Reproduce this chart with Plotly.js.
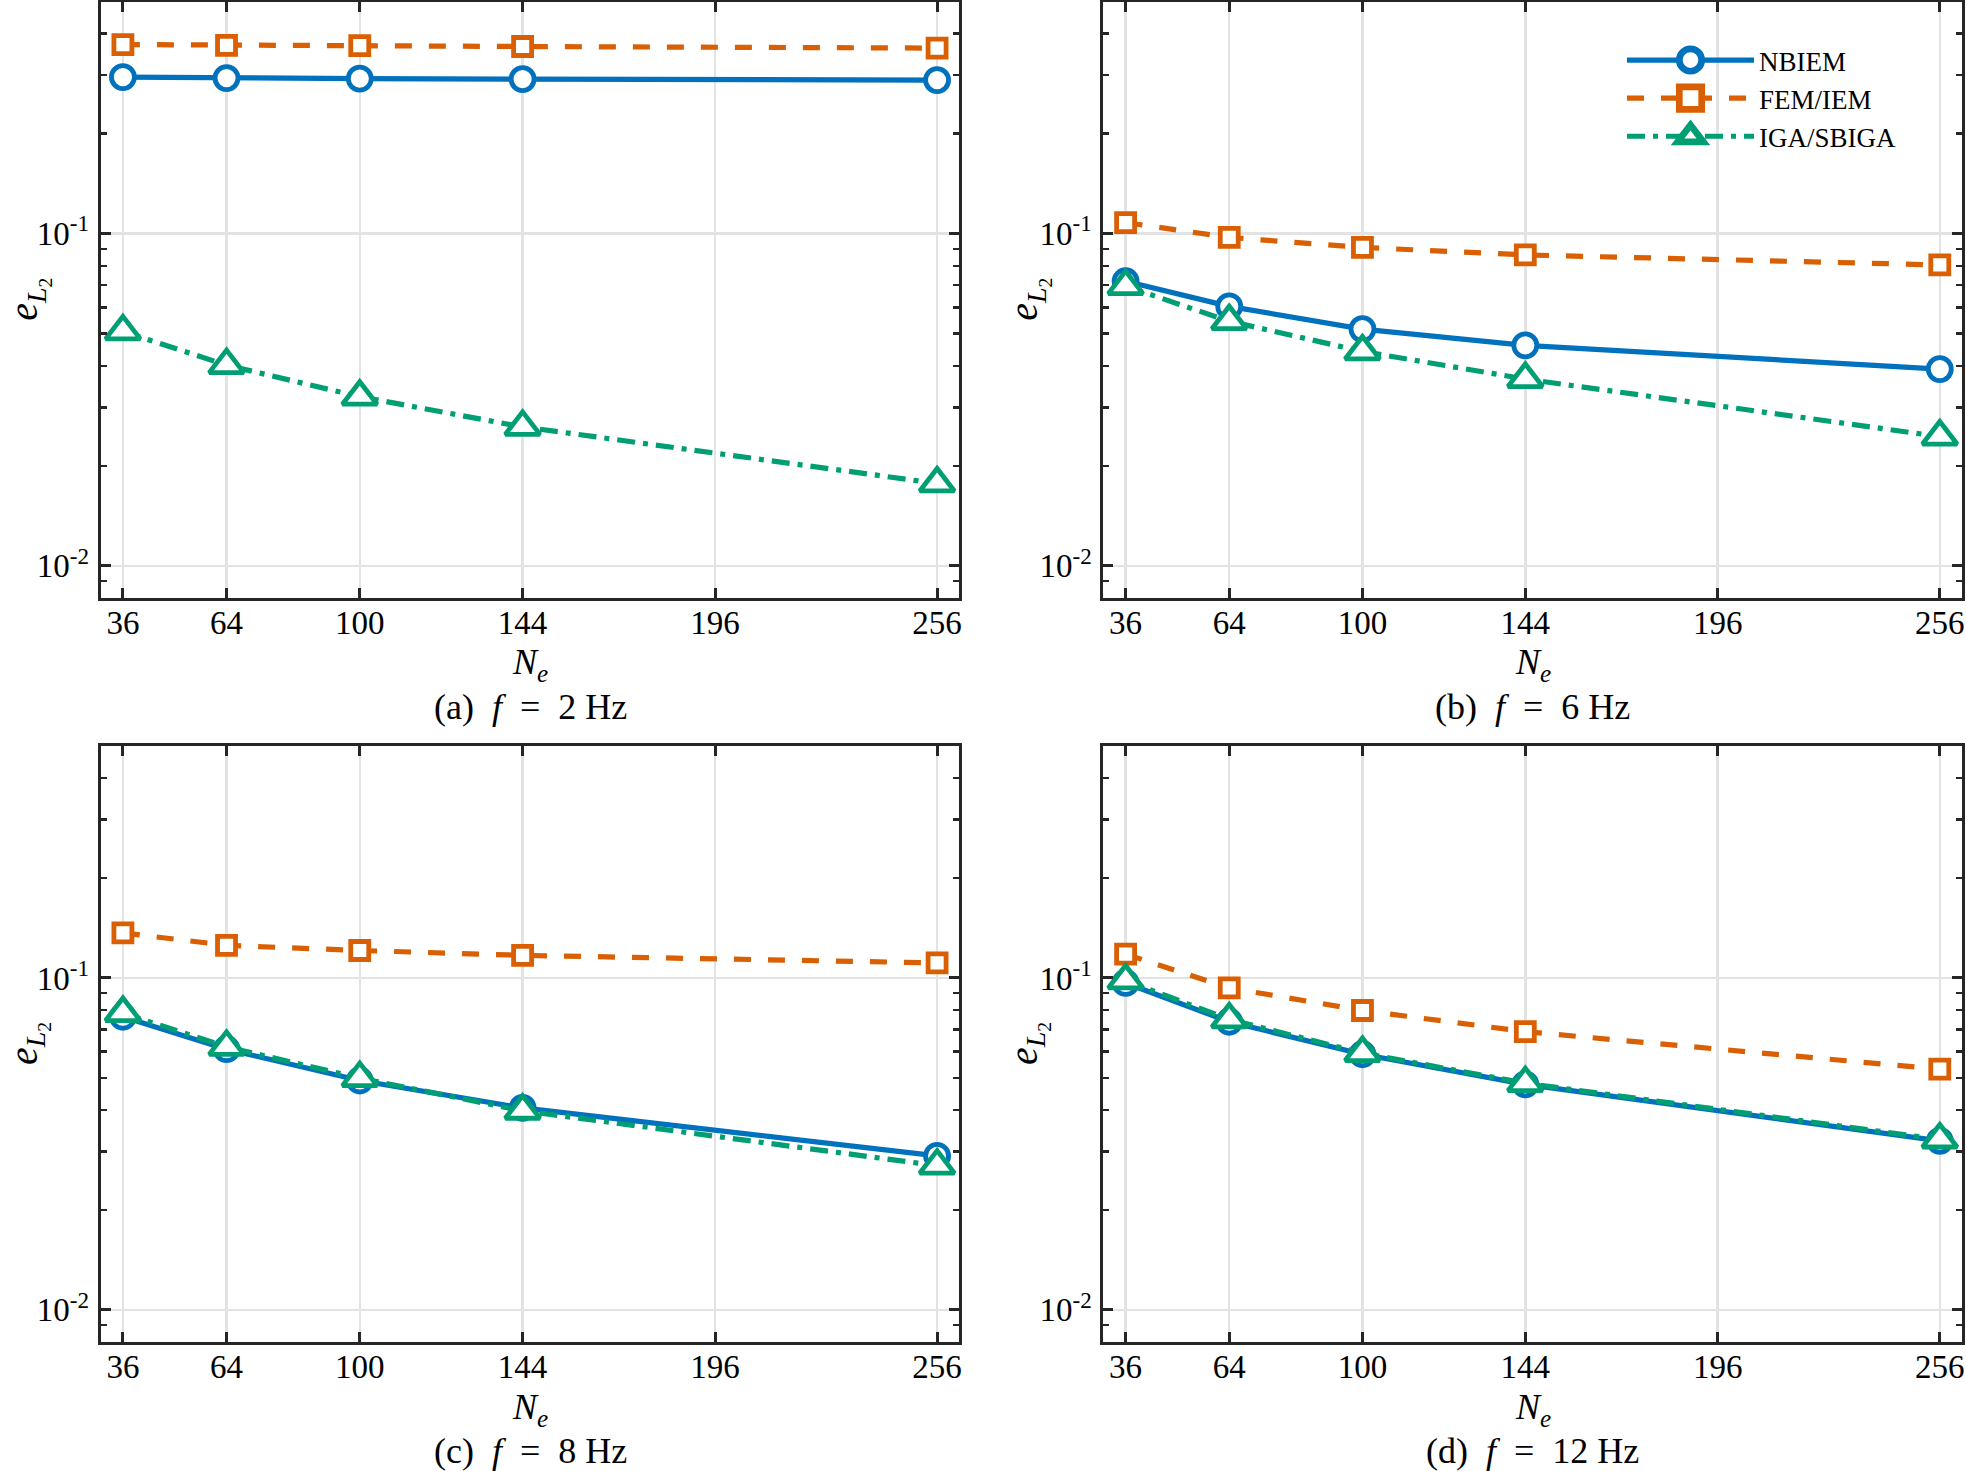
<!DOCTYPE html>
<html>
<head>
<meta charset="utf-8">
<script src="https://cdn.plot.ly/plotly-3.0.1.min.js"></script>
<style>
  html, body { margin: 0; padding: 0; background: #ffffff; }
  #chart { width: 1966px; height: 1471px; }
</style>
</head>
<body>
<div id="chart"></div>
<script>
// Number of elements N_e used in each run
const elementCounts = [36, 64, 100, 144, 256];
const xTickValues = [36, 64, 100, 144, 196, 256];

// Relative L2 error, f = 2 Hz
const nbiem2Hz = [0.296, 0.294, 0.293, 0.292, 0.290];
const femIem2Hz = [0.371, 0.369, 0.368, 0.366, 0.362];
const igaSbiga2Hz = [0.0508, 0.0402, 0.0323, 0.0262, 0.0177];

// f = 6 Hz
const nbiem6Hz = [0.0719, 0.0604, 0.0516, 0.0461, 0.0391];
const femIem6Hz = [0.108, 0.0974, 0.0909, 0.0863, 0.0805];
const igaSbiga6Hz = [0.0695, 0.0545, 0.0442, 0.0365, 0.0245];

// f = 8 Hz
const nbiem8Hz = [0.0764, 0.0610, 0.0491, 0.0406, 0.0291];
const femIem8Hz = [0.1367, 0.1254, 0.121, 0.117, 0.111];
const igaSbiga8Hz = [0.0784, 0.0620, 0.0499, 0.0398, 0.0272];

// f = 12 Hz
const nbiem12Hz = [0.0966, 0.0738, 0.0589, 0.0478, 0.0323];
const femIem12Hz = [0.118, 0.0933, 0.0798, 0.0689, 0.0531];
const igaSbiga12Hz = [0.0983, 0.0750, 0.0594, 0.0482, 0.0326];

const methodNames = ['NBIEM', 'FEM/IEM', 'IGA/SBIGA'];
const panelCaptions = ['(a)  <i>f</i>  =  2 Hz', '(b)  <i>f</i>  =  6 Hz',
                       '(c)  <i>f</i>  =  8 Hz', '(d)  <i>f</i>  =  12 Hz'];

const panels = [
  [nbiem2Hz, femIem2Hz, igaSbiga2Hz],
  [nbiem6Hz, femIem6Hz, igaSbiga6Hz],
  [nbiem8Hz, femIem8Hz, igaSbiga8Hz],
  [nbiem12Hz, femIem12Hz, igaSbiga12Hz]
];

const W = 1966, H = 1471;
const FONT = '"Liberation Serif", "Times New Roman", serif';
const AXIS_COLOR = '#262626';
const GRID_COLOR = '#e3e3e3';

// Series styles
const styles = [
  { color: '#0072BD', dash: 'solid', symbol: 'circle', size: 23 },
  { color: '#D95F02', dash: '17px,17px', symbol: 'square', size: 18 },
  { color: '#009E73', dash: '18px,8px,5px,8px', symbol: 'triangle-up', size: 30 }
];

// Plot-area boxes in pixels: [left, right, top, bottom]
const boxes = [
  [100.7, 959.3, 1.5, 598],
  [1103.4, 1962, 1.5, 598],
  [100.7, 959.3, 746, 1342],
  [1103.4, 1962, 746, 1342]
];

const traces = [];
const layout = {
  width: W, height: H,
  margin: { l: 0, r: 0, t: 0, b: 0, pad: 0 },
  paper_bgcolor: '#ffffff',
  plot_bgcolor: '#ffffff',
  font: { family: FONT, color: '#000000', size: 33 },
  showlegend: true,
  legend: {
    x: 1622 / W, y: 1 - 36 / H, xanchor: 'left', yanchor: 'top',
    bgcolor: 'rgba(255,255,255,0)', borderwidth: 0,
    font: { family: FONT, size: 27, color: '#000000' },
    itemwidth: 127, tracegroupgap: 0
  },
  annotations: []
};

panels.forEach((series, p) => {
  const idx = p === 0 ? '' : String(p + 1);
  const xName = 'x' + idx, yName = 'y' + idx;
  const [l, r, t, b] = boxes[p];

  series.forEach((vals, s) => {
    const st = styles[s];
    traces.push({
      type: 'scatter', mode: 'lines+markers',
      x: elementCounts, y: vals,
      xaxis: xName, yaxis: yName,
      name: methodNames[s], legendgroup: methodNames[s],
      showlegend: p === 1,
      line: { color: st.color, width: 5.2, dash: st.dash },
      marker: { symbol: st.symbol, size: st.size, color: '#ffffff',
                line: { color: st.color, width: 4.8 } },
      cliponaxis: false,
      hoverinfo: 'skip'
    });
  });

  layout['xaxis' + idx] = {
    domain: [l / W, r / W], anchor: yName,
    range: [30, 262],
    tickmode: 'array', tickvals: xTickValues, ticktext: xTickValues.map(String),
    ticks: 'inside', ticklen: 10, tickwidth: 3, tickcolor: AXIS_COLOR,
    showline: true, linewidth: 3, linecolor: AXIS_COLOR, mirror: 'ticks',
    showgrid: true, gridcolor: GRID_COLOR, gridwidth: 2.5, zeroline: false,
    tickfont: { family: FONT, size: 33, color: '#000000' },
    ticklabelstandoff: -7,
    fixedrange: true
  };
  layout['yaxis' + idx] = {
    domain: [1 - b / H, 1 - t / H], anchor: xName,
    type: 'log', range: [Math.log10(0.008), Math.log10(0.5)],
    tickmode: 'array', tickvals: [0.01, 0.1],
    ticktext: ['10<sup>-2</sup>', '10<sup>-1</sup>'],
    ticks: 'inside', ticklen: 10, tickwidth: 3, tickcolor: AXIS_COLOR,
    minor: { ticks: 'inside', ticklen: 6, tickwidth: 2.5, tickcolor: AXIS_COLOR,
             dtick: 'D1', showgrid: false },
    showline: true, linewidth: 3, linecolor: AXIS_COLOR, mirror: 'ticks',
    showgrid: true, gridcolor: GRID_COLOR, gridwidth: 2.5, zeroline: false,
    tickfont: { family: FONT, size: 33, color: '#000000' },
    ticklabelstandoff: 2,
    fixedrange: true
  };

  const cx = (l + r) / 2 / W;
  const top = p < 2;
  // x-axis title
  layout.annotations.push({
    xref: 'paper', yref: 'paper', x: cx, y: 1 - (top ? 664 : 1409) / H,
    xanchor: 'center', yanchor: 'middle', showarrow: false, borderpad: 0,
    text: '<i>N</i><sub><i>e</i></sub>',
    font: { family: FONT, size: 36, color: '#000000' }
  });
  // panel caption
  layout.annotations.push({
    xref: 'paper', yref: 'paper', x: cx, y: 1 - (top ? 707 : 1451) / H,
    xanchor: 'center', yanchor: 'middle', showarrow: false, borderpad: 0,
    text: panelCaptions[p],
    font: { family: FONT, size: 36, color: '#000000' }
  });
  // y-axis title
  layout.annotations.push({
    xref: 'paper', yref: 'paper', x: (p % 2 === 0 ? 0 : 1000) / W,
    y: 1 - (t + b) / 2 / H,
    xanchor: 'left', yanchor: 'middle', showarrow: false, textangle: -90,
    borderpad: 0,
    text: '<i>e</i><sub><i>L</i><sub>2</sub></sub>',
    font: { family: FONT, size: 40, color: '#000000' }
  });
});

Plotly.newPlot('chart', traces, layout, { staticPlot: true, displayModeBar: false })
  .then((gd) => {
    // Legend symbols are size-capped by Plotly; enlarge them to the plotted marker size.
    gd.querySelectorAll('.legend .legendpoints path.scatterpts').forEach((node) => {
      const tr = node.getAttribute('transform') || '';
      node.setAttribute('transform', tr + ' scale(1.4)');
    });
  });
</script>
</body>
</html>
